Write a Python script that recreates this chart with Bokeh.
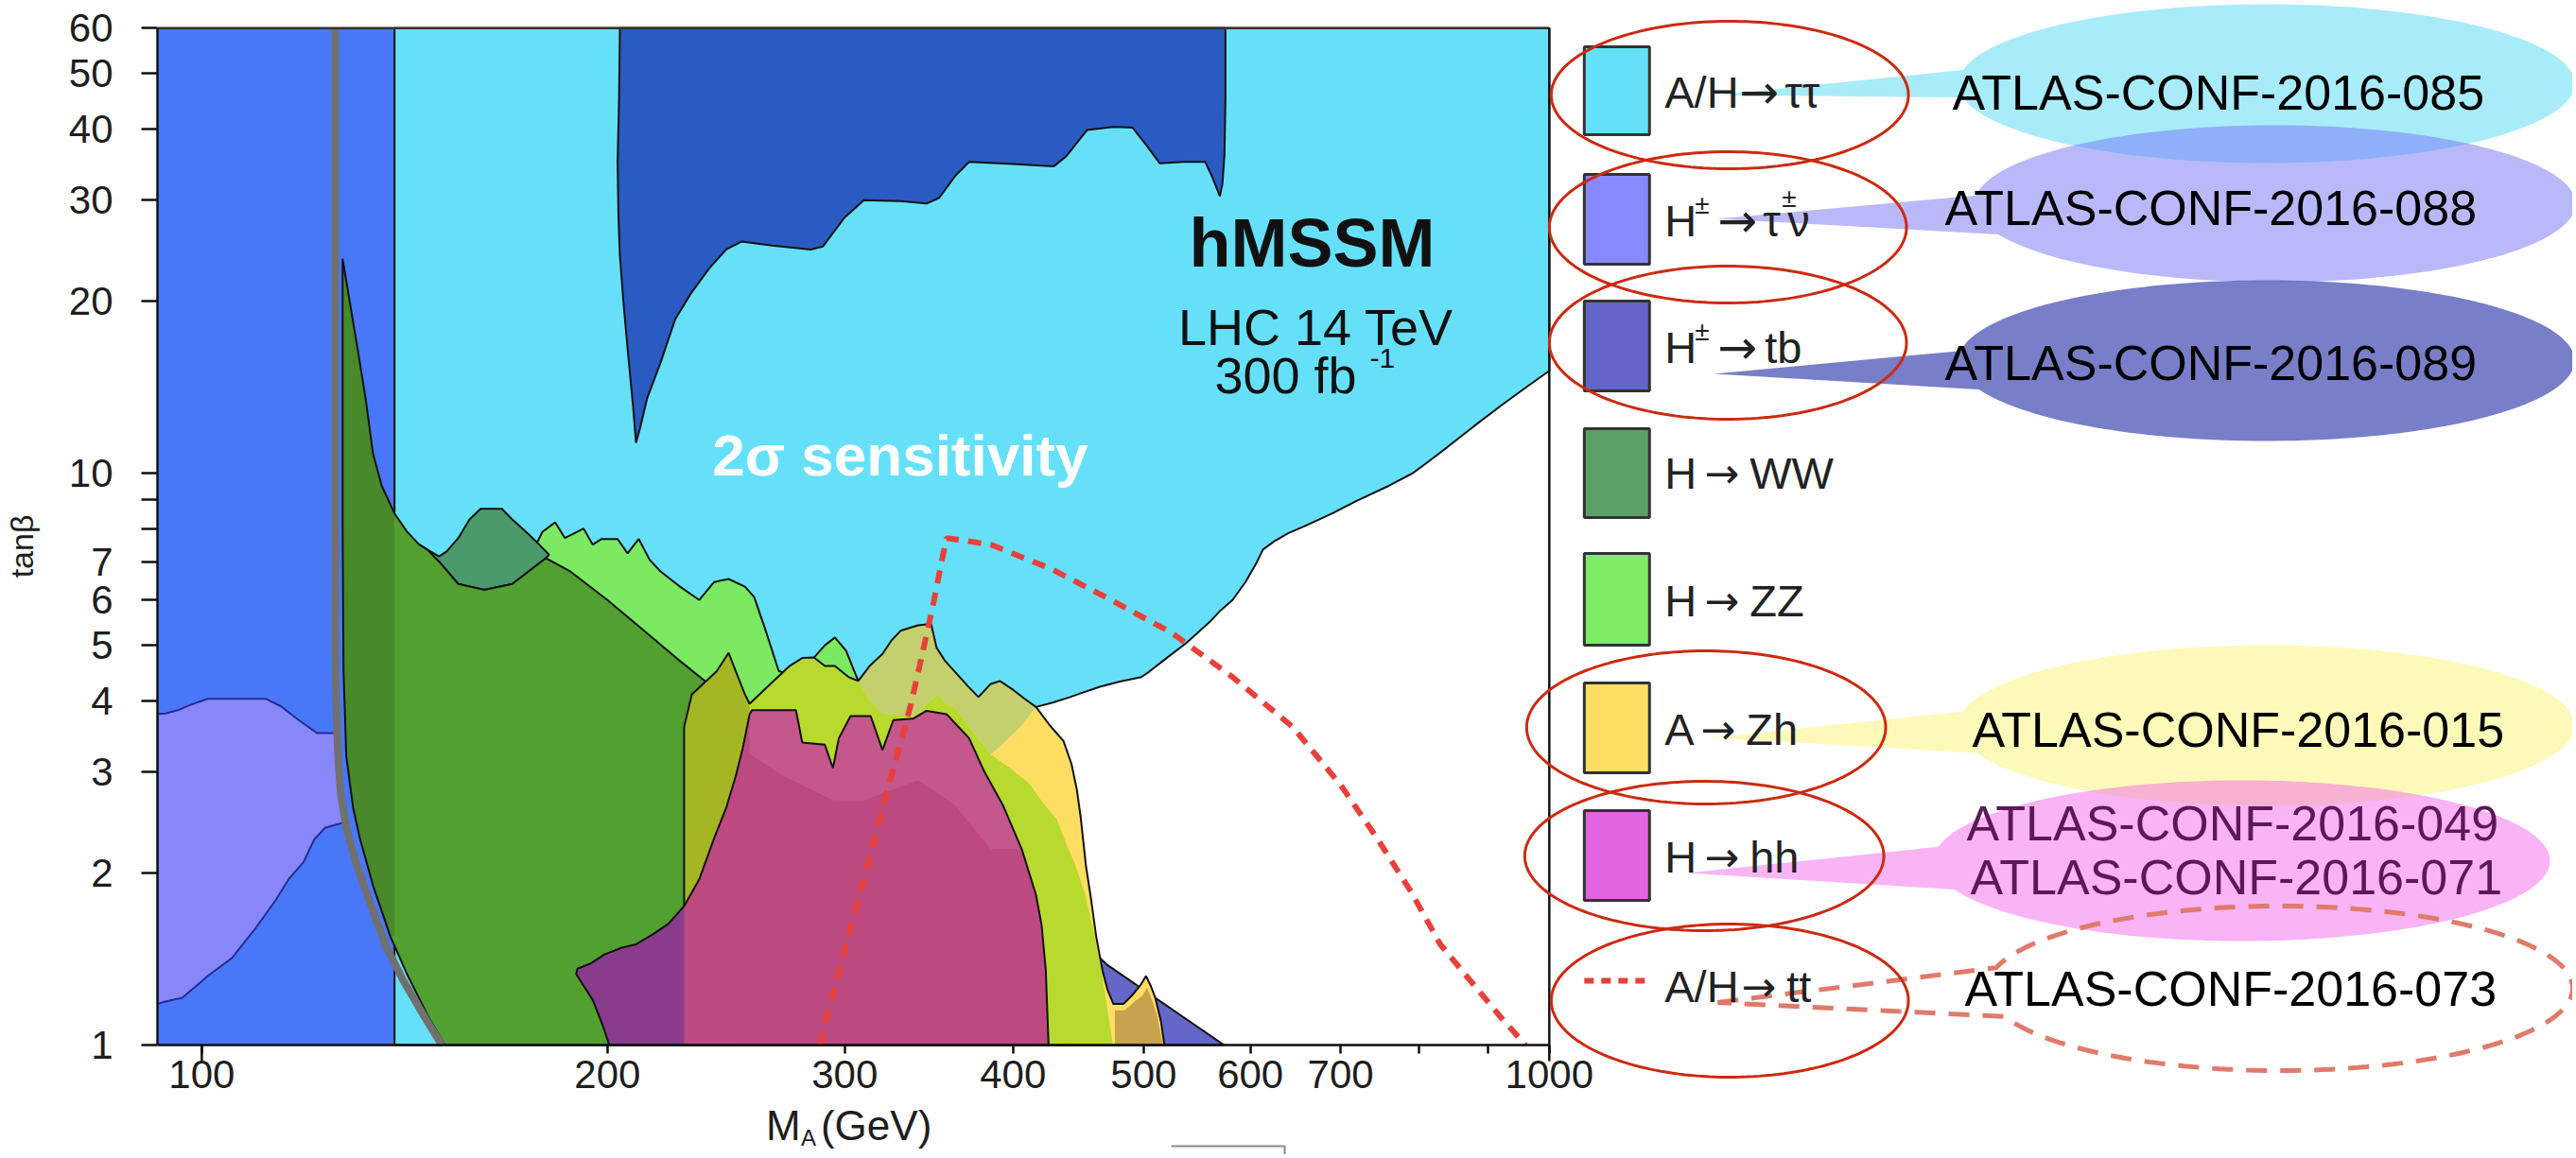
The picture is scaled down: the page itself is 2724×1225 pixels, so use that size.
import numpy as np
from bokeh.plotting import figure
from bokeh.models import (Range1d, LinearScale, FixedTicker, PrintfTickFormatter, Label)
from bokeh.embed import file_html
from bokeh.resources import INLINE

FONT = "Liberation Sans"

# ---------------- axis data ----------------
X_TICKS = [100, 200, 300, 400, 500, 600, 700, 1000]
X_MINOR = [800, 900]
X_DECADES = [100, 1000]
Y_TICKS = [1, 2, 3, 4, 5, 6, 7, 10, 20, 30, 40, 50, 60]
Y_MINOR = [8, 9]
X_MIN, X_MAX = 92.7, 1000
Y_MIN, Y_MAX = 1, 60

# ---------------- regions (M_A in GeV, tan beta) ----------------
BLUE_V = [92.7, 139, 139, 92.7]
BLUE_T = [1, 1, 60, 60]

LAV_V = [92.7, 94, 96, 98, 101, 111.6, 114.5, 118, 121.8, 125.8, 126.3, 126.6, 127.6,
         123.5, 121.2, 119, 116, 113.6, 109.6, 105.3, 101, 99.9, 96.7, 93.8, 92.7]
LAV_T = [3.79, 3.8, 3.85, 3.93, 4.03, 4.03, 3.91, 3.7, 3.51, 3.51, 3.0, 2.67, 2.45,
         2.4, 2.29, 2.09, 1.95, 1.8, 1.6, 1.42, 1.32, 1.29, 1.21, 1.19, 1.18]

STAIR_V = [1000, 960, 920, 880, 840, 810, 792, 760, 720, 690, 660, 640, 625, 613, 606,
           595, 582, 570, 560, 548, 538, 520, 505, 498, 480, 464, 450, 441, 428, 416]
STAIR_T = [15.1, 14.1, 13.1, 12.1, 11.1, 10.4, 10.0, 9.5, 8.95, 8.5, 8.1, 7.85, 7.6, 7.35, 6.95,
           6.45, 6.0, 5.75, 5.5, 5.25, 5.05, 4.75, 4.5, 4.4, 4.32, 4.23, 4.13, 4.06, 3.97, 3.9]
CYAN_V = [139, 139, 1000] + STAIR_V + [405, 395, 385, 330, 250, 200, 160, 151]
CYAN_T = [1, 60, 60] + STAIR_T + [3.6, 3.4, 3.22, 3.0, 3.0, 3.0, 1.6, 1.0]

DB_V = [204.3, 204, 203.5, 203.8, 204.3, 205.5, 207, 209, 210, 211.5, 214, 219, 224.6, 230.6,
        238, 245, 251.5, 265, 283, 289, 300, 310, 330, 345, 352.6, 362, 371, 400, 428.8, 438,
        453.9, 475, 490.5, 502, 514, 535, 555.4, 562, 569.5, 572, 574, 575, 575]
DB_T = [60, 45, 35, 28, 24, 20, 16.5, 13, 11.3, 12, 13.5, 15.6, 18.6, 20.6,
        22.8, 24.6, 25.4, 25, 24.6, 24.9, 28, 30, 29.9, 29.6, 30.3, 33, 35, 34.7, 34.4, 35.8,
        39.8, 40.3, 40.2, 37.5, 34.8, 35, 35, 33, 30.5, 32, 36, 45, 60]

ZZ_V = [176, 179, 182.9, 186, 189, 192, 195, 198, 203.5, 207, 211, 215, 219, 226, 234, 240,
        246, 253, 257, 262, 268, 272, 278, 282, 284.6, 290, 295, 300.7, 307, 313, 320, 340,
        345, 352, 357, 362, 371, 385, 398, 411, 421, 431, 438, 445, 452, 458, 465, 474.5,
        230, 230, 200, 180]
ZZ_T = [7.3, 7.9, 8.2, 7.7, 7.85, 8.0, 7.5, 7.67, 7.67, 7.24, 7.67, 7.05, 6.73, 6.35, 6.0, 6.45,
        6.53, 6.33, 6.07, 5.32, 4.51, 4.45, 4.5, 4.65, 4.76, 5.0, 5.16, 4.89, 4.33, 4.0, 3.8, 3.75,
        3.95, 4.1, 3.95, 3.9, 3.6, 3.22, 3.05, 2.87, 2.65, 2.48, 2.25, 2.06, 1.85, 1.62, 1.35, 1.0,
        1.0, 3.5, 5.5, 6.8]

TEAL_V = [145, 147, 150, 152, 155, 158, 161, 167, 170, 174, 178, 181, 180, 170, 162, 155, 150]
TEAL_T = [7.5, 7.35, 7.15, 7.3, 7.7, 8.3, 8.66, 8.66, 8.3, 7.9, 7.5, 7.2, 7.1, 6.4, 6.25, 6.4, 7.0]

GREEN_V = [127.2, 128.5, 130.5, 132.3, 134, 136, 139, 142, 145, 147, 150, 155, 162, 170, 180,
           187.4, 200, 215, 225, 236.3, 247.8, 255, 255, 250, 151.5, 147, 142, 138, 134, 131,
           129.5, 128, 127.4, 127.2]
GREEN_T = [23.7, 20.5, 16.5, 13.5, 10.8, 9.5, 8.5, 7.9, 7.5, 7.35, 7.0, 6.4, 6.25, 6.4, 7.1,
           6.75, 6.0, 5.2, 4.75, 4.33, 3.79, 3.85, 3.5, 1.0, 1.0, 1.13, 1.33, 1.55, 1.9, 2.3,
           2.6, 3.2, 4.5, 8]
GREEN_DARK_V = [127.2, 128.5, 130.5, 132.3, 134, 136, 139, 139, 138, 134, 131, 129.5, 128, 127.4, 127.2]
GREEN_DARK_T = [23.7, 20.5, 16.5, 13.5, 10.8, 9.5, 8.5, 1.55, 1.55, 1.9, 2.3, 2.6, 3.2, 4.5, 8]

GRAY_V = [125.6, 125.6, 125.8, 126.2, 126.8, 128, 130, 133, 136.8, 141, 146, 150.7]
GRAY_T = [60, 5, 4, 3.2, 2.75, 2.4, 2.1, 1.8, 1.5, 1.3, 1.13, 1.0]

TB_V = [440, 440, 464, 470, 573.6]
TB_T = [1.0, 1.5, 1.42, 1.38, 1.0]

ZH_V = [228, 228, 231, 236, 241, 246, 250, 253, 255, 262, 267, 273, 279, 284.6, 290, 295, 302,
        307, 313, 320, 325, 330, 340, 347.7, 351, 356, 362, 370, 377, 385, 391, 400, 408, 416,
        426, 436, 442, 446, 449, 453, 457, 461, 466, 470, 474.8, 483, 490, 497, 502, 506, 510,
        515, 518]
ZH_T = [1.0, 3.6, 4.1, 4.3, 4.5, 4.85, 4.4, 4.1, 3.95, 4.2, 4.38, 4.6, 4.75, 4.76, 4.6, 4.6, 4.4,
        4.33, 4.6, 4.83, 5.1, 5.3, 5.42, 5.45, 4.95, 4.7, 4.5, 4.25, 4.06, 4.28, 4.33, 4.18, 4.03, 3.9,
        3.62, 3.4, 3.1, 2.8, 2.5, 2.06, 1.8, 1.55, 1.35, 1.25, 1.18, 1.18, 1.22, 1.27, 1.32, 1.27, 1.21,
        1.1, 1.0]
KHAKI_V = [307, 313, 320, 325, 330, 340, 347.7, 351, 356, 362, 370, 377, 385, 391, 400, 408, 416,
           405, 395, 385, 371, 362, 357, 352, 345, 340, 320, 313]
KHAKI_T = [4.33, 4.6, 4.83, 5.1, 5.3, 5.42, 5.45, 4.95, 4.7, 4.5, 4.25, 4.06, 4.28, 4.33, 4.18, 4.03, 3.9,
           3.6, 3.4, 3.22, 3.6, 3.9, 3.95, 4.1, 3.95, 3.75, 3.8, 4.0]
YG_V = [255, 262, 267, 273, 279, 284.6, 290, 295, 302, 307, 313, 320, 340, 345, 352, 357, 362, 371,
        385, 398, 411, 421, 431, 438, 445, 452, 458, 465, 474.5, 250, 252]
YG_T = [3.95, 4.2, 4.38, 4.6, 4.75, 4.76, 4.6, 4.6, 4.4, 4.33, 4.0, 3.8, 3.75, 3.95, 4.1, 3.95, 3.9, 3.6,
        3.22, 3.05, 2.87, 2.65, 2.48, 2.25, 2.06, 1.85, 1.62, 1.35, 1.0, 1.0, 3.0]
OLIVE_V = [228, 228, 231, 236, 241, 246, 250, 253, 255, 255, 252, 249, 245, 240, 234, 228]
OLIVE_T = [1.0, 3.6, 4.1, 4.3, 4.5, 4.85, 4.4, 4.1, 3.95, 3.85, 3.3, 2.95, 2.6, 2.3, 1.95, 1.75]
TAN_V = [476, 476, 484, 492, 499, 503, 507, 512, 516.5]
TAN_T = [1.0, 1.15, 1.15, 1.19, 1.22, 1.26, 1.2, 1.12, 1.0]

HH_V = [200.6, 199, 197, 195, 192, 189.6, 190, 194.5, 199, 205, 210, 216, 222, 228, 234, 240, 245,
        249, 252, 255, 256, 276, 279, 290, 294, 297, 303, 313.6, 320, 326, 337, 345, 357, 371, 381,
        393, 406, 416, 420, 423, 425]
HH_T = [1.0, 1.06, 1.13, 1.2, 1.27, 1.33, 1.36, 1.39, 1.44, 1.48, 1.5, 1.56, 1.63, 1.75, 1.95, 2.3, 2.6,
        2.95, 3.3, 3.79, 3.85, 3.85, 3.38, 3.35, 3.05, 3.44, 3.76, 3.76, 3.28, 3.7, 3.72, 3.84, 3.79, 3.44, 3.0,
        2.63, 2.2, 1.83, 1.62, 1.35, 1.0]
PURPLE_V = HH_V[:14] + [228]
PURPLE_T = HH_T[:14] + [1.0]
LPINK_V = HH_V[19:37] + [385, 362, 340, 330, 310, 294, 269, 255]
LPINK_T = HH_T[19:37] + [2.2, 2.63, 2.9, 2.83, 2.68, 2.68, 2.97, 3.23]

TT_V = [287.6, 296, 304, 312, 320, 328, 336, 343, 349, 354, 357, 385, 427, 473, 525, 582, 645,
        700, 745, 790, 830, 880, 920, 960]
TT_T = [1.0, 1.3, 1.65, 2.05, 2.6, 3.2, 3.95, 4.9, 5.9, 7.0, 7.7, 7.5, 6.8, 6.0, 5.25, 4.4, 3.6,
        2.85, 2.3, 1.85, 1.5, 1.27, 1.12, 1.0]

# ---------------- legend / annotations ----------------
LEG_COLORS = ["#64e0f8", "#8888ff", "#6464c8", "#5aa064", "#7deb64", "#ffde64", "#e164e1"]
BUBBLE_TEXTS = ["ATLAS-CONF-2016-085", "ATLAS-CONF-2016-088", "ATLAS-CONF-2016-089",
                "ATLAS-CONF-2016-015", "ATLAS-CONF-2016-049", "ATLAS-CONF-2016-071",
                "ATLAS-CONF-2016-073"]

# ---------------- figure geometry (page px; canvas at page origin) ----------------
W, H = 2720, 1221
FL, FR = 164, W                # frame left / right
FT, FB = 0, H                  # frame top / bottom (whole canvas height)
AX_B = 1105                    # page y of tan(beta) = 1
X_PX_DEC, Y_PX_DEC = 1426.0, 605.0
X_END = 10 ** (3 + (FR - 1637) / X_PX_DEC)
Y_LO = 10 ** ((AX_B - FB) / Y_PX_DEC)
Y_HI = 10 ** ((AX_B - FT) / Y_PX_DEC)

p = figure(width=W, height=H, x_axis_type="log", y_axis_type="log",
           x_range=Range1d(X_MIN, X_END), y_range=Range1d(Y_LO, Y_HI),
           output_backend="svg", toolbar_location=None,
           min_border_left=FL, min_border_right=0, min_border_top=0, min_border_bottom=0)
p.outline_line_color = None
p.grid.visible = False
p.background_fill_color = "white"
p.border_fill_color = "white"

p.extra_x_ranges = {"px": Range1d(FL, FR)}
p.extra_y_ranges = {"px": Range1d(FB, FT)}
p.extra_x_scales = {"px": LinearScale()}
p.extra_y_scales = {"px": LinearScale()}

for ax, ticks, minor in ((p.xaxis, X_TICKS, X_MINOR), (p.yaxis, Y_TICKS, Y_MINOR)):
    ax.ticker = FixedTicker(ticks=ticks, minor_ticks=minor)
    ax.formatter = PrintfTickFormatter(format="%d")
    ax.axis_line_color = "#111111"
    ax.axis_line_width = 2.5
    ax.major_tick_line_color = "#111111"
    ax.minor_tick_line_color = "#111111"
    ax.major_tick_line_width = 2.5
    ax.minor_tick_line_width = 2.5
    ax.major_tick_in = 0
    ax.minor_tick_in = 0
    ax.major_label_text_font = FONT
    ax.major_label_text_font_size = "42px"
    ax.major_label_text_color = "#1e1e1e"
p.xaxis.bounds = (X_MIN, X_MAX)
p.xaxis.fixed_location = Y_MIN
p.xaxis.major_tick_out = 9
p.xaxis.minor_tick_out = 9
p.xaxis.major_label_standoff = 7
p.yaxis.bounds = (Y_MIN, Y_MAX)
p.yaxis.major_tick_out = 17
p.yaxis.minor_tick_out = 17
p.yaxis.major_label_standoff = 30
NBSP = "\u00a0"
p.yaxis.axis_label = NBSP * 7 + "tanβ"
p.yaxis.axis_label_text_font = FONT
p.yaxis.axis_label_text_font_style = "normal"
p.yaxis.axis_label_text_font_size = "34px"
p.yaxis.axis_label_text_color = "#1e1e1e"
p.yaxis.axis_label_standoff = 28

# longer decade ticks on the x axis (below tan(beta)=1, inside the frame)
TICK_END = 10 ** (-17 / Y_PX_DEC)
p.segment(x0=X_DECADES, y0=[Y_MIN] * 2, x1=X_DECADES, y1=[TICK_END] * 2,
          line_color="#111111", line_width=2.5)


def fill(v, t, color):
    p.patch(v, t, fill_color=color, line_color=None)


def edge(v, t, color="#111111", lw=2):
    p.patch(v, t, fill_alpha=0, line_color=color, line_width=lw)


fill(BLUE_V, BLUE_T, "#4878f8")
fill(LAV_V, LAV_T, "#8787fa"); edge(LAV_V, LAV_T, "#2a2a90", 2)
fill(CYAN_V, CYAN_T, "#66e0f9"); edge(CYAN_V, CYAN_T)
fill(DB_V, DB_T, "#2a5bc3"); edge(DB_V, DB_T)
fill(ZZ_V, ZZ_T, "#7ce962"); edge(ZZ_V, ZZ_T)
fill(TEAL_V, TEAL_T, "#4a9a6c"); edge(TEAL_V, TEAL_T)
fill(GREEN_V, GREEN_T, "#52a030")
fill(GREEN_DARK_V, GREEN_DARK_T, "#48892b")
edge(GREEN_V, GREEN_T)
p.line(GRAY_V, GRAY_T, line_color="#707070", line_width=8)
fill(TB_V, TB_T, "#6467c8"); edge(TB_V, TB_T)
fill(ZH_V, ZH_T, "#fede62")
fill(KHAKI_V, KHAKI_T, "#c4d06e")
fill(YG_V, YG_T, "#b8da2e")
fill(OLIVE_V, OLIVE_T, "#a4b624")
fill(TAN_V, TAN_T, "#c8a24e")
edge(ZH_V, ZH_T)
fill(HH_V, HH_T, "#bc4a80")
fill(LPINK_V, LPINK_T, "#c4578c")
fill(PURPLE_V, PURPLE_T, "#8a3c8c")
edge(HH_V, HH_T)
p.line(TT_V, TT_T, line_color="#e8403a", line_width=6, line_dash="14 10")

# frame top/right
p.line([X_MIN, X_MAX], [Y_MAX, Y_MAX], line_color="#333333", line_width=2.5)
p.line([X_MAX, X_MAX], [Y_MIN, Y_MAX], line_color="#111111", line_width=2.5)


def lab(x, y, text, size, color="#1a1a1a", bold=False, align="left", baseline="middle", font=FONT):
    p.add_layout(Label(x=x, y=y, text=text, text_font=font, text_font_size=f"{size}px",
                       text_color=color, text_font_style="bold" if bold else "normal",
                       text_align=align, text_baseline=baseline,
                       x_range_name="px", y_range_name="px"))


def px_patch(xs, ys, **kw):
    p.patch(list(xs), list(ys), x_range_name="px", y_range_name="px", **kw)


def px_line(xs, ys, **kw):
    p.line(list(xs), list(ys), x_range_name="px", y_range_name="px", **kw)


def ellipse_pts(cx, cy, a, b, th0=0.0, th1=360.0, n=180):
    th = np.radians(np.linspace(th0, th1, n))
    return cx + a * np.cos(th), cy + b * np.sin(th)


# texts inside plot
lab(1386, 256, "hMSSM", 72, "#111111", bold=True, align="center")
lab(1390, 345, "LHC 14 TeV", 54, "#111111", align="center")
lab(1358, 396, "300 fb", 54, "#111111", align="center")
lab(1447, 378, "-1", 30, "#111111")
lab(950, 481, "2σ sensitivity", 62, "white", bold=True, align="center")

# x-axis title
lab(808, 1190, "M", 44, "#1e1e1e")
lab(845, 1203, "A", 24, "#1e1e1e")
lab(866, 1190, "(GeV)", 44, "#1e1e1e")
px_line([1237, 1357, 1357], [1212, 1212, 1221], line_color="#8a8a8a", line_width=2)

# legend swatches
SW_TOP = [49, 184, 318, 453, 585, 722, 857]
SW_BOT = [142, 279, 413, 547, 682, 817, 952]
p.quad(left=1674, right=1743, top=SW_TOP, bottom=SW_BOT, fill_color=LEG_COLORS,
       line_color="#333333", line_width=3, x_range_name="px", y_range_name="px")
px_line([1674, 1743], [1037, 1037], line_color="#e8403a", line_width=6, line_dash="10 8")

# legend labels (pieces)
ARROW_FONT = "DejaVu Sans"
LY = [97, 233, 367, 500, 635, 771, 906, 1043]
pieces = [
    ("A/H", 1759, LY[0], 47), ("→", 1838, LY[0], 50), ("ττ", 1886, LY[0], 47),
    ("H", 1759, LY[1], 47), ("±", 1791, LY[1] - 17, 28), ("→", 1815, LY[1], 50),
    ("τ", 1863, LY[1], 47), ("±", 1883, LY[1] - 24, 28), ("ν", 1889, LY[1], 47),
    ("H", 1759, LY[2], 47), ("±", 1791, LY[2] - 17, 28), ("→", 1815, LY[2], 50), ("tb", 1865, LY[2], 47),
    ("H", 1759, LY[3], 47), ("→", 1801, LY[3], 44), ("WW", 1849, LY[3], 47),
    ("H", 1759, LY[4], 47), ("→", 1801, LY[4], 44), ("ZZ", 1849, LY[4], 47),
    ("A", 1759, LY[5], 47), ("→", 1797, LY[5], 44), ("Zh", 1845, LY[5], 47),
    ("H", 1759, LY[6], 47), ("→", 1801, LY[6], 44), ("hh", 1849, LY[6], 47),
    ("A/H", 1759, LY[7], 47), ("→", 1840, LY[7], 44), ("tt", 1888, LY[7], 47),
]
for t, x, y, s in pieces:
    lab(x, y, t, s, "#222222", font=ARROW_FONT if t == "→" else FONT)

# speech bubbles: (cx, cy, a, b, theta_up, theta_low, tipx, tipy, color, alpha)
BUBBLES = [
    (2396, 88, 326, 84, 190, 170, 1815, 100, "#52daf6", 0.5),
    (2405, 215, 318, 83, 186, 157, 1815, 231, "#7474f6", 0.5),
    (2396, 381, 326, 85, 187, 159, 1811, 395, "#6267be", 0.85),
    (2396, 767, 326, 85, 190, 160, 1808, 780, "#fbf573", 0.5),
    (2370, 910, 326, 85, 190, 159, 1783, 923, "#f169eb", 0.5),
]
for cx, cy, a, b, tu, tl, tx, ty, col, al in BUBBLES:
    xs, ys = ellipse_pts(cx, cy, a, b, tu, tl + 360)
    px_patch(list(xs) + [tx], list(ys) + [ty], fill_color=col, fill_alpha=al, line_color=None)

# dashed bubble outline
dx, dy = ellipse_pts(2410, 1045, 310, 87, 194.5, 160 + 360)
px_line([1815] + list(dx) + [1815], [1060] + list(dy) + [1060],
        line_color="#e07a6a", line_width=5, line_dash="22 14")

# red hand-drawn ellipses
RED_ELL = [(1828, 100, 189, 78), (1826, 240, 189, 80), (1826, 362, 189, 81),
           (1803, 769, 190, 81), (1801, 905, 190, 79), (1828, 1058, 189, 81)]
for cx, cy, a, b in RED_ELL:
    xs, ys = ellipse_pts(cx, cy, a, b)
    px_line(xs, ys, line_color="#cc2a10", line_width=3)

# bubble texts
TXT_POS = [(2345, 97, "black"), (2337, 219, "black"), (2337, 383, "black"),
           (2366, 771, "black"), (2360, 870, "#5a1a5a"), (2364, 927, "#5a1a5a"),
           (2358, 1045, "black")]
for txt, (x, y, c) in zip(BUBBLE_TEXTS, TXT_POS):
    lab(x, y, txt, 52, c, align="center")

open("out.html", "w").write(file_html(p, INLINE))
